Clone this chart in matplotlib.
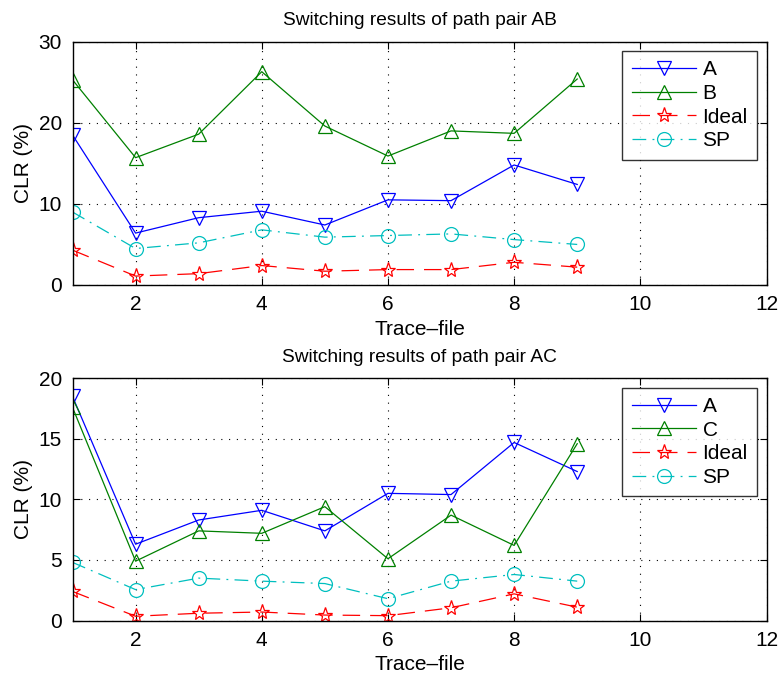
import matplotlib
matplotlib.use("Agg")
import matplotlib.pyplot as plt

plt.rcParams['font.family'] = ['Liberation Sans', 'DejaVu Sans']

trace = [1, 2, 3, 4, 5, 6, 7, 8, 9]

# Path pair AB
ab_A = [18.5, 6.4, 8.3, 9.1, 7.4, 10.5, 10.4, 14.8, 12.4]
ab_B = [25.3, 15.7, 18.6, 26.3, 19.6, 15.9, 19.0, 18.7, 25.4]
ab_ideal = [4.3, 1.1, 1.4, 2.4, 1.7, 1.9, 1.9, 2.8, 2.2]
ab_sp = [9.0, 4.5, 5.2, 6.8, 5.9, 6.1, 6.3, 5.6, 5.0]

# Path pair AC
ac_A = [18.5, 6.3, 8.3, 9.1, 7.4, 10.5, 10.4, 14.7, 12.3]
ac_C = [17.6, 4.9, 7.4, 7.2, 9.4, 5.1, 8.7, 6.2, 14.6]
ac_ideal = [2.4, 0.35, 0.6, 0.7, 0.45, 0.4, 1.05, 2.2, 1.1]
ac_sp = [4.8, 2.55, 3.5, 3.25, 3.05, 1.8, 3.25, 3.8, 3.25]

xticks = [2, 4, 6, 8, 10, 12]

fig = plt.figure(figsize=(7.8, 6.77), dpi=100)
ax1 = fig.add_axes([72.5/780, 1-285/677, (766.5-72.5)/780, (285-41.7)/677])
ax2 = fig.add_axes([72.5/780, 1-620.5/677, (766.5-72.5)/780, (620.5-378.3)/677])

blue = (0, 0, 1)
green = (0, 0.5, 0)
red = (1, 0, 0)
cyan = (0, 0.75, 0.75)
lw = 0.9
ms = 10

def draw(ax, A, second, second_label, ideal, sp, ymax, yticks, title):
    ax.plot(trace, A, color=blue, lw=lw, marker='v', ms=ms, mfc='none', mec=blue, mew=lw, label='A')
    ax.plot(trace, second, color=green, lw=lw, marker='^', ms=ms, mfc='none', mec=green, mew=lw, label=second_label)
    ax.plot(trace, ideal, color=red, lw=lw, ls=(0, (14, 8)), marker='*', ms=ms+1, mfc='none', mec=red, mew=lw, label='Ideal')
    ax.plot(trace, sp, color=cyan, lw=lw, ls=(0, (11, 5, 1.5, 5)), marker='o', ms=ms, mfc='none', mec=cyan, mew=lw, label='SP')
    ax.set_xlim(1, 12)
    ax.set_ylim(0, ymax)
    ax.set_xticks(xticks)
    ax.set_yticks(yticks)
    ax.tick_params(direction='in', top=True, right=True, labelsize=15, length=5, width=0.8, pad=7.5)
    ax.grid(True, color='black', ls=(0, (1, 6)), lw=0.8)
    for s in ax.spines.values():
        s.set_linewidth(1.0)
    ax.set_title(title, fontsize=13.8, pad=12)
    ax.set_xlabel('Trace\u2013file', fontsize=15, labelpad=4)
    ax.set_ylabel('CLR (%)', fontsize=15, labelpad=4)
    leg = ax.legend(loc='upper right', fontsize=15, frameon=True, fancybox=False,
                    edgecolor='black', handlelength=3.1, borderaxespad=0.45,
                    labelspacing=0.22, handletextpad=0.3, borderpad=0.45)
    leg.get_frame().set_linewidth(1.0)

draw(ax1, ab_A, ab_B, 'B', ab_ideal, ab_sp, 30, [0, 10, 20, 30], 'Switching results of path pair AB')
draw(ax2, ac_A, ac_C, 'C', ac_ideal, ac_sp, 20, [0, 5, 10, 15, 20], 'Switching results of path pair AC')

fig.savefig('out.png', dpi=100)
